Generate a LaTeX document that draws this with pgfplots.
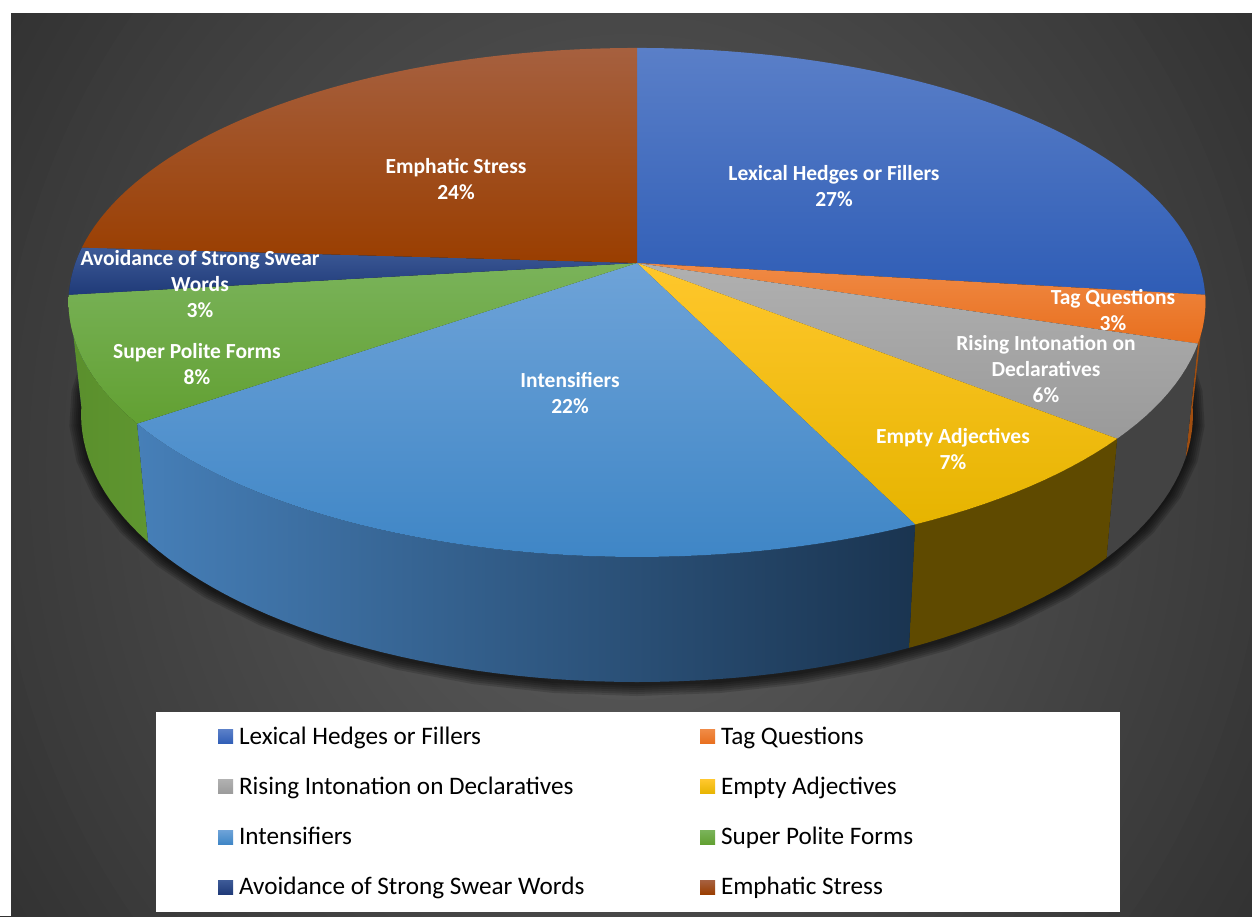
\documentclass[border=0pt]{standalone}
\usepackage{pgfplots}
\pgfplotsset{compat=1.18}
\usepackage{fontspec}
\setmainfont{Carlito}

% slide backdrop
\definecolor{bgMid}{HTML}{606060}
\definecolor{bgC}{HTML}{2C2C2C}

% upper faces
\definecolor{lexA}{HTML}{5A7FC8}
\definecolor{lexB}{HTML}{3F69C2}
\definecolor{lexC}{HTML}{2F5DB6}
\definecolor{tagA}{HTML}{F08A45}
\definecolor{tagB}{HTML}{E86F1E}
\definecolor{riseA}{HTML}{B0B0B0}
\definecolor{riseB}{HTML}{9A9A9A}
\definecolor{emptyA}{HTML}{FFC72C}
\definecolor{emptyB}{HTML}{E6B400}
\definecolor{intA}{HTML}{6EA3D8}
\definecolor{intB}{HTML}{4F92D6}
\definecolor{intC}{HTML}{3F86C6}
\definecolor{polA}{HTML}{7AB35A}
\definecolor{polB}{HTML}{62A032}
\definecolor{swA}{HTML}{3D5A97}
\definecolor{swB}{HTML}{1F3A78}
\definecolor{empA}{HTML}{A6603F}
\definecolor{empB}{HTML}{9E4100}
\definecolor{empC}{HTML}{9A3E00}
% walls
\definecolor{wallTag}{HTML}{A04E10}
\definecolor{wallSwear}{HTML}{1A3060}
\definecolor{wallRise}{HTML}{434343}
\definecolor{wallEmpty}{HTML}{5F4A00}
\definecolor{wallPoliteL}{HTML}{5A8F2C}
\definecolor{wallPoliteR}{HTML}{5F9630}
\definecolor{wallIntensL}{HTML}{467FB8}
\definecolor{wallIntensR}{HTML}{1A3450}

% Rim of the disc: share #1 (percent, clockwise from twelve o'clock) in perspective
\newcommand\rimTop[1]{%
  \pgfmathsetmacro\th{3.6*(#1)}%
  \pgfmathsetmacro\den{1+0.155*cos(\th)}%
  \pgfmathsetmacro\px{637+561.6*sin(\th)/\den}%
  \pgfmathsetmacro\py{263-248.4*cos(\th)/\den}%
}
\newcommand\rimBottom[1]{%
  \rimTop{#1}%
  \pgfmathsetmacro\qx{637+0.978*(\px-637)}%
  \pgfmathsetmacro\qy{1.05*\py+97.2}%
}

% Upper face of one slice
\newcommand\topslice[3]{%
  \xdef\pts{(637,263)}%
  \pgfmathtruncatemacro\n{2*(#2)}%
  \pgfplotsforeachungrouped \k in {0,1,...,\n}{%
    \rimTop{#1+\k/2}%
    \xdef\pts{\pts (\px,\py)}%
  }%
  \edef\cmd{\noexpand\addplot[draw=none,#3] coordinates {\pts} -- cycle;}\cmd
}

% Outer wall of one slice
\newcommand\wall[3]{%
  \xdef\pts{}%
  \pgfmathtruncatemacro\n{2*(#2)}%
  \pgfplotsforeachungrouped \k in {0,1,...,\n}{%
    \rimTop{#1+\k/2}%
    \xdef\pts{\pts (\px,\py)}%
  }%
  \pgfplotsforeachungrouped \k in {0,1,...,\n}{%
    \rimBottom{#1+#2-\k/2}%
    \xdef\pts{\pts (\qx,\qy)}%
  }%
  \edef\cmd{\noexpand\addplot[draw=none,forget plot,#3] coordinates {\pts} -- cycle;}\cmd
}

% One layer of the soft shadow under the disc, grown by #1
\newcommand\shadowlayer[1]{%
  \xdef\pts{}%
  \pgfplotsforeachungrouped \k in {0,2,...,100}{%
    \rimBottom{\k}%
    \pgfmathsetmacro\sx{637+(\qx-637)*(1+#1/556)}%
    \pgfmathsetmacro\sy{416.8+(\qy-414.8)*(1+#1/267)}%
    \xdef\pts{\pts (\sx,\sy)}%
  }%
  \edef\cmd{\noexpand\addplot[draw=none,fill=black,fill opacity=0.15,forget plot] coordinates {\pts} -- cycle;}\cmd
}

\newcommand\lab[1]{\makebox[461pt][l]{\hspace*{3pt}\rule[-18pt]{0pt}{50pt}#1}}
\tikzset{lbl/.style={font=\bfseries\fontsize{21.5}{26}\selectfont, text=white, align=center}}

\begin{document}
\begin{tikzpicture}
\begin{axis}[
  width=1252pt, height=916pt, scale only axis,
  xmin=0, xmax=1252, ymin=0, ymax=916, y dir=reverse,
  hide axis, no markers,
  legend columns=2,
  legend cell align=left,
  legend style={
    at={(axis cs:218,709)}, anchor=north west,
    draw=none, fill=none, inner sep=0pt, outer sep=0pt,
    font=\fontsize{25.2}{25.2}\selectfont,
    /tikz/every even column/.append style={column sep=0pt},
    /tikz/nodes={inner sep=3pt},
    /tikz/row sep=10.7pt,
  },
  legend image code/.code={\path[#1] (0pt,-15pt) rectangle (15pt,-1pt);},
]
% backdrop: nested ellipses stepping from the dark rim to the lighter middle
\path[fill=bgC] (axis cs:0,0) rectangle (axis cs:1252,916);
\pgfplotsinvokeforeach{0,2,...,98}{
  \path[fill={bgMid!#1!bgC}] (axis cs:631,465) ellipse [x radius={860*(1-#1/100)*1pt}, y radius={980*(1-#1/100)*1pt}];
}
\path[fill=white] (axis cs:0,0) rectangle (axis cs:11,916);
\path[fill=white] (axis cs:0,0) rectangle (axis cs:1252,13);
\path[fill=white] (axis cs:156,712) rectangle (axis cs:1120,912);

% soft shadow
\shadowlayer{12}
\shadowlayer{10}
\shadowlayer{8}
\shadowlayer{6}
\shadowlayer{4}
\shadowlayer{2}

% outer walls, back to front
\wall{27}{3}{fill=wallTag}
\wall{73}{3}{fill=wallSwear}
\wall{30}{6}{fill=wallRise}
\wall{65}{8}{left color=wallPoliteL,right color=wallPoliteR}
\wall{36}{7}{fill=wallEmpty}
\wall{43}{22}{left color=wallIntensL,right color=wallIntensR}

% upper faces
\topslice{0}{27}{top color=lexA,middle color=lexB,bottom color=lexC}
\addlegendentry{\lab{Lexical Hedges or Fillers}}
\topslice{27}{3}{top color=tagA,bottom color=tagB}
\addlegendentry{\lab{Tag Questions}}
\topslice{30}{6}{top color=riseA,bottom color=riseB}
\addlegendentry{\lab{Rising Intonation on Declaratives}}
\topslice{36}{7}{top color=emptyA,bottom color=emptyB}
\addlegendentry{\lab{Empty Adjectives}}
\topslice{43}{22}{top color=intA,middle color=intB,bottom color=intC}
\addlegendentry{\lab{Intensifiers}}
\topslice{65}{8}{top color=polA,bottom color=polB}
\addlegendentry{\lab{Super Polite Forms}}
\topslice{73}{3}{top color=swA,bottom color=swB}
\addlegendentry{\lab{Avoidance of Strong Swear Words}}
\topslice{76}{24}{top color=empA,middle color=empB,bottom color=empC}
\addlegendentry{\lab{Emphatic Stress}}

% slice labels
\node[lbl] at (axis cs:834,186) {Lexical Hedges or Fillers\\27\%};
\node[lbl] at (axis cs:1113,310) {Tag Questions\\3\%};
\node[lbl] at (axis cs:1046,369) {Rising Intonation on\\Declaratives\\6\%};
\node[lbl] at (axis cs:953,449) {Empty Adjectives\\7\%};
\node[lbl] at (axis cs:570,393) {Intensifiers\\22\%};
\node[lbl] at (axis cs:197,364) {Super Polite Forms\\8\%};
\node[lbl] at (axis cs:200,284) {Avoidance of Strong Swear\\Words\\3\%};
\node[lbl] at (axis cs:456,179) {Emphatic Stress\\24\%};
\end{axis}
\end{tikzpicture}
\end{document}
